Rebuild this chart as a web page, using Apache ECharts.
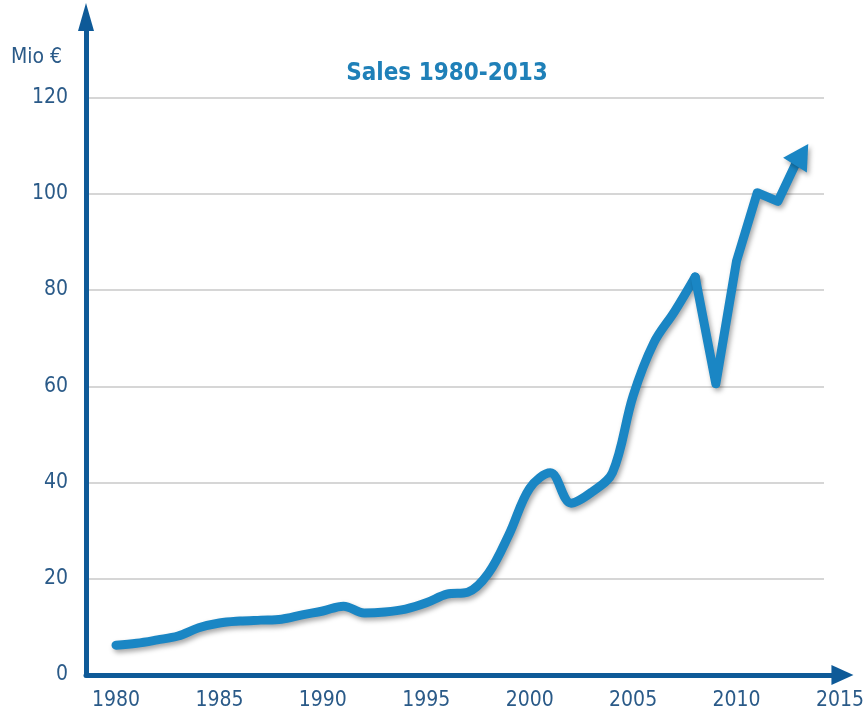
<!DOCTYPE html>
<html>
<head>
<meta charset="utf-8">
<title>Sales 1980-2013</title>
<script src="https://cdn.jsdelivr.net/npm/echarts@6/dist/echarts.min.js"></script>
<style>
  html, body { margin: 0; background: #fff; }
  #chart { width: 867px; height: 713px; }
</style>
</head>
<body>
<div id="chart"></div>
<script>
// data (Mio €)
const years = [1980, 1981, 1982, 1983, 1984, 1985, 1986, 1987, 1988, 1989,
  1990, 1991, 1992, 1993, 1994, 1995, 1996, 1997, 1998, 1999,
  2000, 2001, 2002, 2003, 2004, 2005, 2006, 2007, 2008, 2009,
  2010, 2011, 2012, 2013]
const sales = [6.2, 6.6, 7.3, 8.1, 9.8, 10.8, 11.2, 11.4, 11.6, 12.5,
  13.3, 14.3, 12.9, 13.1, 13.7, 15.0, 16.8, 17.2, 21.1, 29.2,
  38.8, 42.0, 35.7, 38.0, 42.0, 58.0, 69.0, 75.5, 82.7, 60.5,
  86.0, 100.2, 98.4, 107.5]
const yTicks = [0, 20, 40, 60, 80, 100, 120]
const xTicks = [1980, 1985, 1990, 1995, 2000, 2005, 2010, 2015]
const sharpFrom = 2008 // after this year the curve has hard corners

const lineColor = '#1a86c4'
const axisColor = '#0e5a98'
const labelColor = '#2a5a88'
const font = 'DejaVu Sans Condensed'

const pairs = years.map((y, i) => [y, sales[i]])
const cut = years.indexOf(sharpFrom)
const smoothPart = pairs.slice(0, cut + 1)
const sharpPart = pairs.slice(cut).map((p, i, arr) => {
  if (i < arr.length - 1) return p
  // last point carries the arrow head (negative rotate = clockwise)
  return { value: p, symbol: 'triangle', symbolSize: [28, 25], symbolRotate: -32, symbolOffset: [3, -3] }
})

const lineStyle = {
  color: lineColor,
  width: 9,
  cap: 'round',
  join: 'round',
  shadowColor: 'rgba(0,0,0,0.35)',
  shadowBlur: 5,
  shadowOffsetX: 2,
  shadowOffsetY: 3,
}

const chart = echarts.init(document.getElementById('chart'))
chart.setOption({
  animation: false,
  title: [
    {
      text: 'Sales 1980-2013',
      left: 447,
      textAlign: 'center',
      top: 62,
      padding: 0,
      textStyle: { fontFamily: font, fontWeight: 'bold', fontSize: 24, color: '#1f80b8' },
    },
    {
      text: 'Mio €',
      left: 11,
      top: 47,
      padding: 0,
      textStyle: { fontFamily: font, fontWeight: 'normal', fontSize: 21, color: labelColor },
    },
  ],
  grid: [
    // grid lines only
    { left: 86, right: 43, top: 97.5, bottom: 38 },
    // axes with arrows + the line
    { left: 86, right: 23, top: 17, bottom: 38 },
  ],
  xAxis: [
    { gridIndex: 0, type: 'value', min: 0, max: 1, show: false },
    {
      gridIndex: 1,
      type: 'value',
      min: 1978.55,
      max: 2015.12,
      splitLine: { show: false },
      axisTick: { show: false },
      axisLine: {
        onZero: false,
        symbol: ['none', 'triangle'],
        symbolSize: [20, 22],
        lineStyle: { color: axisColor, width: 5 },
      },
      axisLabel: {
        customValues: xTicks,
        formatter: v => String(v),
        margin: 15,
        fontFamily: font,
        fontSize: 21,
        color: labelColor,
      },
    },
  ],
  yAxis: [
    {
      gridIndex: 0,
      type: 'value',
      min: 0,
      max: 120,
      interval: 20,
      axisLine: { show: false },
      axisTick: { show: false },
      axisLabel: { show: false },
      splitLine: { lineStyle: { color: '#c9c9c9', width: 1.5 } },
    },
    {
      gridIndex: 1,
      type: 'value',
      min: 0,
      max: 136.7,
      splitLine: { show: false },
      axisTick: { show: false },
      axisLine: {
        show: true,
        symbol: ['none', 'triangle'],
        symbolSize: [16, 28],
        lineStyle: { color: axisColor, width: 5 },
      },
      axisLabel: {
        customValues: yTicks,
        margin: 18,
        fontFamily: font,
        fontSize: 21,
        color: labelColor,
      },
    },
  ],
  series: [
    {
      type: 'line',
      xAxisIndex: 1,
      yAxisIndex: 1,
      data: smoothPart,
      smooth: 0.35,
      showSymbol: false,
      symbol: 'none',
      lineStyle: lineStyle,
    },
    {
      type: 'line',
      xAxisIndex: 1,
      yAxisIndex: 1,
      data: sharpPart,
      smooth: false,
      symbol: 'none',
      itemStyle: {
        color: lineColor,
        shadowColor: 'rgba(0,0,0,0.35)',
        shadowBlur: 5,
        shadowOffsetX: 2,
        shadowOffsetY: 3,
      },
      lineStyle: lineStyle,
    },
  ],
})
</script>
</body>
</html>
